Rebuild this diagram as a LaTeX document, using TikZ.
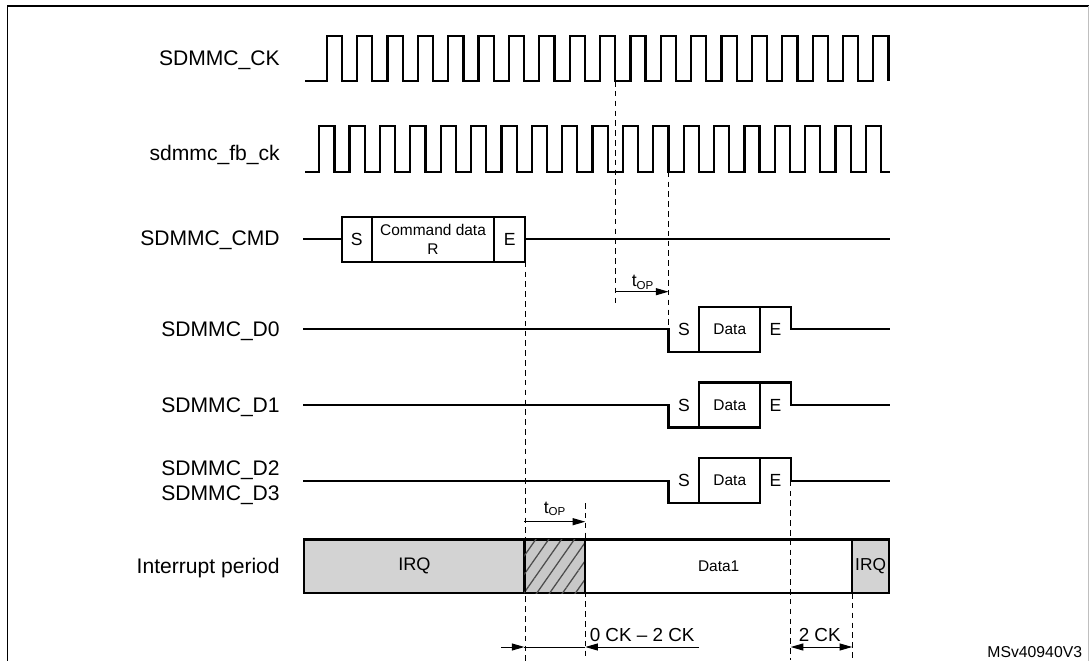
\documentclass[tikz,border=0pt]{standalone}
\usepackage{fontspec}
\setmainfont{Liberation Sans}
\usepackage{xcolor}
\usepackage[]{tikz}
\usetikzlibrary{positioning,calc,patterns.meta}
\usetikzlibrary{arrows.meta,arrows}
\definecolor{irqGray}{HTML}{D3D3D3}
\definecolor{hatchGray}{HTML}{C8C8C8}
\tikzstyle{sig}      =[line width=1.6pt, line join=miter]
\tikzstyle{guide}    =[line width=0.6pt, dash pattern=on 4pt off 3pt]
\tikzstyle{dim}      =[line width=0.7pt, -{Triangle[length=9pt,width=5pt]}]
\tikzstyle{sigName}  =[anchor=base east, inner sep=0pt, font=\fontsize{15}{18}\selectfont]
\tikzstyle{fieldBig} =[inner sep=0pt, font=\fontsize{12.5}{14}\selectfont]
\tikzstyle{fieldSm}  =[inner sep=0pt, align=center, font=\fontsize{11}{13}\selectfont]
\tikzstyle{dimLabel} =[inner sep=0pt, anchor=base west, font=\fontsize{13.4}{15}\selectfont]
\newcommand{\tOP}{t\raisebox{-0.3ex}{\fontsize{8.2}{9}\selectfont OP}}

\begin{document}
\begin{tikzpicture}[x=0.025cm, y=-0.025cm]
      \useasboundingbox (0,0) rectangle (1089,661);
      \draw[line width=1.4pt] (7.5,661) -- (7.5,6) -- (1089,6);
      \draw[line width=0.4pt, gray!50] (1088.3,6) -- (1088.3,661);

      % signal names
      \node[sigName] (ck)  at (280,66) {SDMMC\_CK};
      \node[sigName] (fb)  at (280,160.5) {sdmmc\_fb\_ck};
      \node[sigName] (cmd) at (280,246) {SDMMC\_CMD};
      \node[sigName] (d0)  at (280,336.8) {SDMMC\_D0};
      \node[sigName] (d1)  at (280,412.5) {SDMMC\_D1};
      \node[sigName] (d2)  at (280,475) {SDMMC\_D2};
      \node[sigName] (d3)  at (280,500.5) {SDMMC\_D3};
      \node[sigName] (irq) at (280,573.5) {Interrupt period};

      % clocks
      \draw[sig] (305,81) -- (326.7,81)
        foreach \k in {1,...,18} { -- ++(0,-45.3) -- ++(15.2,0) -- ++(0,45.3) -- ++(15.17,0) }
        -- ++(0,-45.3) -- ++(15.2,0) -- ++(0,45.3);
      \draw[sig] (305,171.7) -- (319.2,171.7)
        foreach \k in {1,...,18} { -- ++(0,-45.7) -- ++(15.2,0) -- ++(0,45.7) -- ++(15.17,0) }
        -- ++(0,-45.7) -- ++(15.2,0) -- ++(0,45.7) -- (890,171.7);

      % command
      \draw[sig] (303,239.3) -- (341.7,239.3) (525,239.3) -- (890,239.3);
      \draw[sig] (341.7,216.7) rectangle (525,261.7);
      \draw[sig] (371.7,216.7) -- (371.7,261.7) (494.3,216.7) -- (494.3,261.7);
      \node[fieldBig] (cmdS) at (356.7,239.3) {S};
      \node[fieldSm]  (cmdR) at (433,239.3) {Command data\\R};
      \node[fieldBig] (cmdE) at (509.7,239.3) {E};

      % data lines
      \foreach \m [count=\i] in {329.3,405,480.7}{
        \draw[sig] (303,\m) -- (668.5,\m) -- (668.5,\m+22.5) -- (760.3,\m+22.5) -- (760.3,\m-22.6);
        \draw[sig] (699.3,\m+22.5) -- (699.3,\m-22.6) -- (790.7,\m-22.6) -- (790.7,\m) -- (890,\m);
        \node[fieldBig] (s\i) at (684,\m) {S};
        \node[fieldSm] (data\i) at (729.8,\m) {Data};
        \node[fieldBig] (e\i) at (775.5,\m) {E};
      }

      % interrupt period
      \draw[sig, fill=irqGray] (303.7,539.5) rectangle (524.4,593);
      \draw[sig, fill=hatchGray, postaction={pattern={Lines[angle=55,distance=7.5pt,line width=0.9pt]}, pattern color=black!70}]
        (524.4,539.5) rectangle (585.3,593);
      \draw[sig, fill=white] (585.3,539.5) rectangle (852.2,593);
      \draw[sig, fill=irqGray] (852.2,539.5) rectangle (889,593);
      \node[inner sep=0pt, font=\fontsize{12.9}{14}\selectfont] (irqA) at (414.4,566.2) {IRQ};
      \node[fieldSm] (data) at (718.7,566.2) {Data1};
      \node[inner sep=0pt, font=\fontsize{12.3}{14}\selectfont] (irqB) at (870.6,566.2) {IRQ};

      % guides
      \coordinate (ckF)  at (615.2,81);
      \coordinate (fbF)  at (668.5,171.7);
      \coordinate (cmdX) at (525,261.7);
      \coordinate (topX) at (585.3,503);
      \coordinate (endX) at (790.7,480.7);
      \coordinate (irqX) at (852.2,593);
      \draw[guide] (ckF) -- ++(0,226);
      \draw[guide] (fbF) -- ++(0,157.6);
      \draw[guide] (cmdX) -- ++(0,399);
      \draw[guide] (topX) -- ++(0,157);
      \draw[guide] (endX) -- ++(0,179.5);
      \draw[guide] (irqX) -- ++(0,67);

      % timings
      \coordinate (op1a) at (615.2,291.7);
      \coordinate (op1b) at (668.5,291.7);
      \draw[dim] (op1a) -- (op1b);
      \node[dimLabel, font=\fontsize{12.5}{13}\selectfont] (op1) at (631.5,286.5) {\tOP};
      \coordinate (op2a) at (524.4,521.7);
      \coordinate (op2b) at (585.3,521.7);
      \draw[dim] (op2a) -- (op2b);
      \node[dimLabel, font=\fontsize{12.5}{13}\selectfont] (op2) at (543.5,513) {\tOP};

      \coordinate (ckA) at (501.4,647);
      \coordinate (ckB) at (524.4,647);
      \coordinate (ckC) at (585.3,647);
      \coordinate (ckD) at (699,647);
      \draw[dim] (ckA) -- (ckB);
      \draw[line width=0.7pt] (ckB) -- (ckC);
      \draw[dim] (ckD) -- (ckC);
      \node[dimLabel] (ck02) at (589.5,641.5) {0 CK \textendash{} 2 CK};
      \coordinate (twoA) at (790.7,647);
      \coordinate (twoB) at (852.2,647);
      \draw[dim, {Triangle[length=9pt,width=5pt]}-{Triangle[length=9pt,width=5pt]}] (twoA) -- (twoB);
      \node[dimLabel] (ck2) at (798.5,641.5) {2 CK};

      \node[inner sep=0pt, anchor=base east, font=\fontsize{11.2}{13}\selectfont] (ref) at (1082.3,657) {MSv40940V3};
    \end{tikzpicture}
\end{document}
